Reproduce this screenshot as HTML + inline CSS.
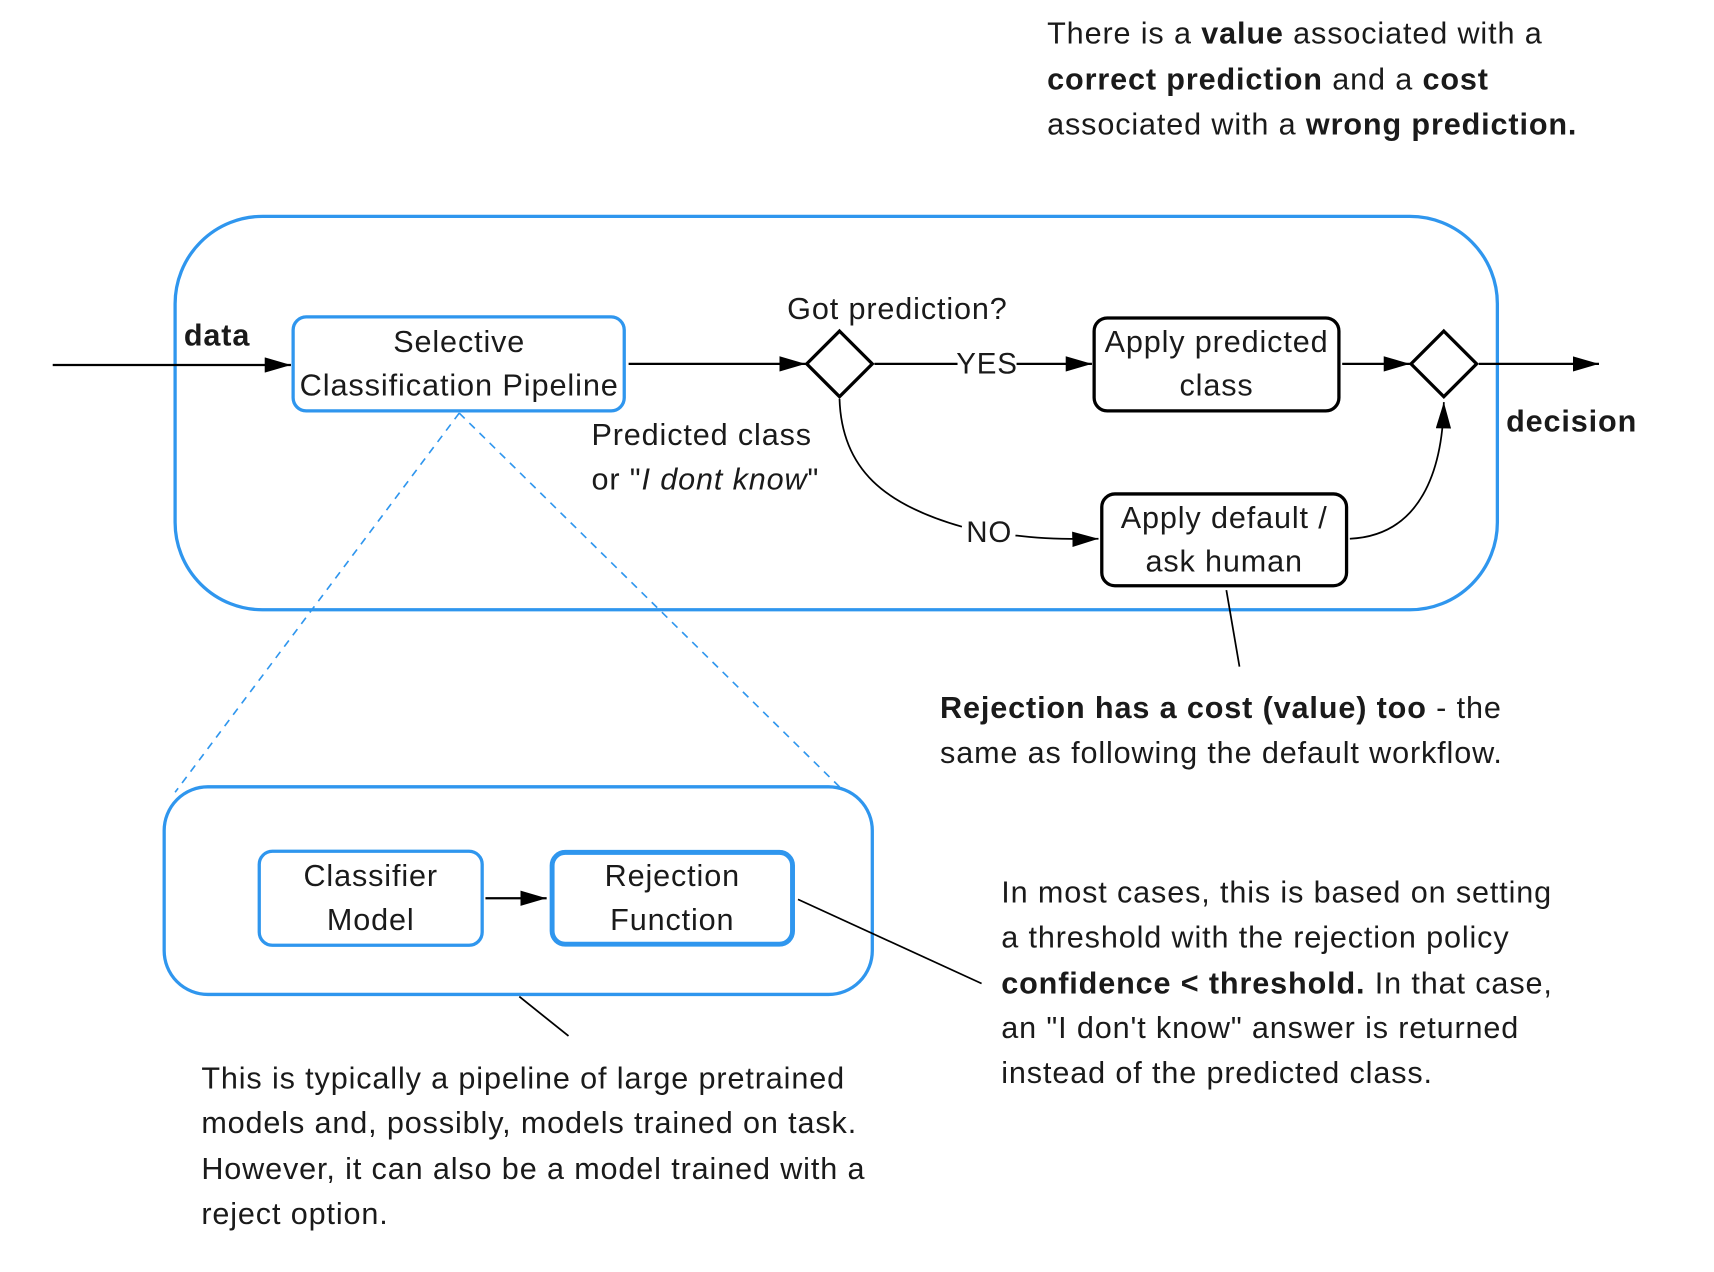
<!DOCTYPE html>
<html><head><meta charset="utf-8"><style>
html,body{margin:0;padding:0;background:#fff;}
svg{display:block;}
text{font-family:"Liberation Sans",sans-serif;fill:#1a1a1a;letter-spacing:0.8px;}
</style></head><body>
<svg width="1714" height="1272" viewBox="0 0 1568 1164" xmlns="http://www.w3.org/2000/svg">
<defs>
<marker id="b" viewBox="0 0 24 14" markerWidth="24" markerHeight="14" refX="24" refY="7" orient="auto" markerUnits="userSpaceOnUse"><path d="M0,0 L24,7 L0,14 Z" fill="#000"/></marker>
</defs>
<g font-size="28">
<text x="958" y="40">There is a <tspan font-weight="bold">value</tspan> associated with a</text>
<text x="958" y="82"><tspan font-weight="bold">correct prediction</tspan> and a <tspan font-weight="bold">cost</tspan></text>
<text x="958" y="123">associated with a <tspan font-weight="bold">wrong prediction.</tspan></text>
</g>
<rect x="160" y="198" width="1210" height="360" rx="80" fill="none" stroke="#2f96ee" stroke-width="3"/>
<line x1="420" y1="378" x2="160" y2="725" stroke="#2f96ee" stroke-width="1.5" stroke-dasharray="7,6"/>
<line x1="420" y1="378" x2="768" y2="720" stroke="#2f96ee" stroke-width="1.5" stroke-dasharray="7,6"/>
<line x1="48" y1="334" x2="266" y2="334" stroke="#000" stroke-width="2" marker-end="url(#b)"/>
<text x="168" y="316" font-size="28" font-weight="bold">data</text>
<rect x="268" y="290" width="303" height="86" rx="12" fill="#fff" stroke="#2f96ee" stroke-width="3"/>
<g font-size="28" text-anchor="middle">
<text x="420" y="322">Selective</text>
<text x="420" y="362" textLength="292" lengthAdjust="spacingAndGlyphs">Classification Pipeline</text>
</g>
<line x1="575" y1="333" x2="737" y2="333" stroke="#000" stroke-width="2" marker-end="url(#b)"/>
<polygon points="768,303 798,333 768,363 738,333" fill="#fff" stroke="#000" stroke-width="3"/>
<text x="821" y="292" font-size="28" text-anchor="middle">Got prediction?</text>
<line x1="800" y1="333" x2="876" y2="333" stroke="#000" stroke-width="2"/>
<text x="903" y="342" font-size="27" text-anchor="middle">YES</text>
<line x1="930" y1="333" x2="999" y2="333" stroke="#000" stroke-width="2" marker-end="url(#b)"/>
<rect x="1001" y="291" width="224" height="85" rx="12" fill="#fff" stroke="#000" stroke-width="3"/>
<g font-size="28" text-anchor="middle">
<text x="1113" y="322">Apply predicted</text>
<text x="1113" y="362">class</text>
</g>
<line x1="1228" y1="333" x2="1290" y2="333" stroke="#000" stroke-width="2" marker-end="url(#b)"/>
<polygon points="1321,303 1351,333 1321,363 1291,333" fill="#fff" stroke="#000" stroke-width="3"/>
<line x1="1353" y1="333" x2="1463" y2="333" stroke="#000" stroke-width="2" marker-end="url(#b)"/>
<text x="1378" y="395" font-size="28" font-weight="bold">decision</text>
<g font-size="28">
<text x="541" y="407">Predicted class</text>
<text x="541" y="448">or "<tspan font-style="italic">I dont know</tspan>"</text>
</g>
<path d="M768,365 C770,430 810,462 880,482" fill="none" stroke="#000" stroke-width="1.6"/>
<text x="905" y="496" font-size="27" text-anchor="middle">NO</text>
<path d="M929,490 Q960,494 1005,493" fill="none" stroke="#000" stroke-width="1.6" marker-end="url(#b)"/>
<rect x="1008" y="452" width="224" height="84" rx="12" fill="#fff" stroke="#000" stroke-width="3"/>
<g font-size="28" text-anchor="middle">
<text x="1120" y="483">Apply default /</text>
<text x="1120" y="523">ask human</text>
</g>
<path d="M1235,493 C1300,490 1320,430 1321,368" fill="none" stroke="#000" stroke-width="1.6" marker-end="url(#b)"/>
<line x1="1122" y1="540" x2="1134" y2="610" stroke="#000" stroke-width="1.6"/>
<g font-size="28">
<text x="860" y="657"><tspan font-weight="bold">Rejection has a cost (value) too</tspan> - the</text>
<text x="860" y="698">same as following the default workflow.</text>
</g>
<rect x="150" y="720" width="648" height="190" rx="40" fill="none" stroke="#2f96ee" stroke-width="3"/>
<rect x="237" y="779" width="204" height="86" rx="12" fill="#fff" stroke="#2f96ee" stroke-width="3"/>
<g font-size="28" text-anchor="middle">
<text x="339" y="811">Classifier</text>
<text x="339" y="851">Model</text>
</g>
<line x1="444" y1="822" x2="500" y2="822" stroke="#000" stroke-width="2" marker-end="url(#b)"/>
<rect x="505" y="780" width="220" height="84" rx="12" fill="#fff" stroke="#2f96ee" stroke-width="4.5"/>
<g font-size="28" text-anchor="middle">
<text x="615" y="811">Rejection</text>
<text x="615" y="851">Function</text>
</g>
<line x1="730" y1="823" x2="898" y2="900" stroke="#000" stroke-width="1.6"/>
<line x1="475" y1="912" x2="520" y2="948" stroke="#000" stroke-width="1.6"/>
<g font-size="28">
<text x="184" y="996">This is typically a pipeline of large pretrained</text>
<text x="184" y="1037">models and, possibly, models trained on task.</text>
<text x="184" y="1079">However, it can also be a model trained with a</text>
<text x="184" y="1120">reject option.</text>
</g>
<g font-size="28">
<text x="916" y="826">In most cases, this is based on setting</text>
<text x="916" y="867">a threshold with the rejection policy</text>
<text x="916" y="909"><tspan font-weight="bold">confidence &lt; threshold.</tspan> In that case,</text>
<text x="916" y="950">an "I don't know" answer is returned</text>
<text x="916" y="991">instead of the predicted class.</text>
</g>
</svg>
</body></html>
